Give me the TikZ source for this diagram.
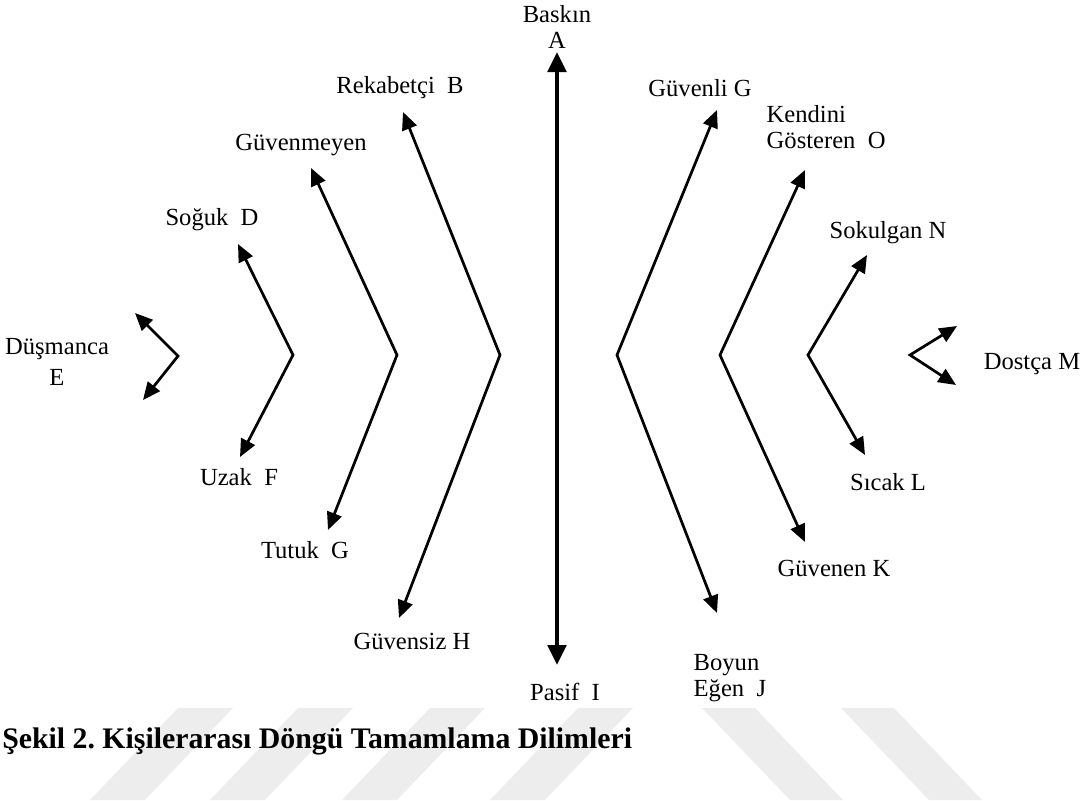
\documentclass[tikz,border=0pt]{standalone}
\usepackage{fontspec}
\setmainfont{Liberation Serif}
\usetikzlibrary{arrows.meta}
\frenchspacing

\tikzset{
  lbl/.style={font=\fontsize{17.5}{18.5}\selectfont, inner sep=1pt},
  captxt/.style={font=\fontsize{21.2}{23}\selectfont\bfseries, inner sep=0pt},
  chev/.style={line width=0.68mm, line join=miter,
    {Triangle[length=4.4mm,width=3.8mm]}-{Triangle[length=4.4mm,width=3.8mm]}},
  axis/.style={line width=1mm,
    {Triangle[length=5mm,width=4.6mm]}-{Triangle[length=5mm,width=4.6mm]}},
  wmark/.style={fill=black!7}
}

\begin{document}
\begin{tikzpicture}[x=0.25mm, y=-0.25mm]
  \useasboundingbox (0,0) rectangle (1088,800);
  % watermark stripes
  \foreach \a in {178,298,430,578}
    \fill[wmark] (\a,708) -- (\a+55,708) -- (\a-33,800) -- (\a-88,800) -- cycle;
  \foreach \a in {702,841}
    \fill[wmark] (\a,708) -- (\a+53,708) -- (\a+141,800) -- (\a+88,800) -- cycle;

  % dominance axis
  \coordinate (tA) at (557,52);
  \coordinate (tI) at (557,665);
  \draw[axis] (tA) -- (tI);
  \node[lbl, align=center] (A) at (557,27) {Baskın\\A};
  \node[lbl] (I) at (565,692) {Pasif~~I};

  % left chevrons
  \coordinate (tB) at (403,112); \coordinate (vBH) at (500,355); \coordinate (tH) at (399,618);
  \coordinate (tC) at (311,168); \coordinate (vCG) at (397,355); \coordinate (tG) at (328,530);
  \coordinate (tD) at (238,244); \coordinate (vDF) at (293,355); \coordinate (tF) at (240,457);
  \coordinate (tE1) at (135,313); \coordinate (vE) at (178,356); \coordinate (tE2) at (143,400);
  \draw[chev] (tB) -- (vBH) -- (tH);
  \draw[chev] (tC) -- (vCG) -- (tG);
  \draw[chev] (tD) -- (vDF) -- (tF);
  \draw[chev] (tE1) -- (vE) -- (tE2);

  % right chevrons
  \coordinate (tGv) at (717,110); \coordinate (vGJ) at (617,355); \coordinate (tJ) at (717,613);
  \coordinate (tO) at (805,170); \coordinate (vOK) at (720,355); \coordinate (tK) at (805,542);
  \coordinate (tN) at (867,255); \coordinate (vNL) at (808,355); \coordinate (tL) at (865,455);
  \coordinate (tM1) at (957,326); \coordinate (vM) at (910,355); \coordinate (tM2) at (956,385);
  \draw[chev] (tGv) -- (vGJ) -- (tJ);
  \draw[chev] (tO) -- (vOK) -- (tK);
  \draw[chev] (tN) -- (vNL) -- (tL);
  \draw[chev] (tM1) -- (vM) -- (tM2);

  % labels, left
  \node[lbl] (B) at (400,88) {Rekabetçi~~B};
  \node[lbl] (C) at (301,145) {Güvenmeyen};
  \node[lbl] (D) at (212,220) {Soğuk~~D};
  \node[lbl, align=center] (E) at (57,362) {Düşmanca\\[3pt]E};
  \node[lbl] (F) at (239,477) {Uzak~~F};
  \node[lbl] (G) at (305,550) {Tutuk~~G};
  \node[lbl] (H) at (412,641) {Güvensiz H};
  % labels, right
  \node[lbl] (Gv) at (700,88) {Güvenli G};
  \node[lbl, align=left, anchor=west] (O) at (765,127) {Kendini\\Gösteren~~O};
  \node[lbl] (N) at (888,233) {Sokulgan N};
  \node[lbl] (M) at (1032,364) {Dostça M};
  \node[lbl] (L) at (888,482) {Sıcak L};
  \node[lbl] (K) at (834,568) {Güvenen K};
  \node[lbl, align=left, anchor=west] (J) at (692,678) {Boyun\\Eğen~~J};

  % caption
  \node[captxt, anchor=west] (capt) at (2,741) {Şekil 2. Kişilerarası Döngü Tamamlama Dilimleri};
\end{tikzpicture}
\end{document}
